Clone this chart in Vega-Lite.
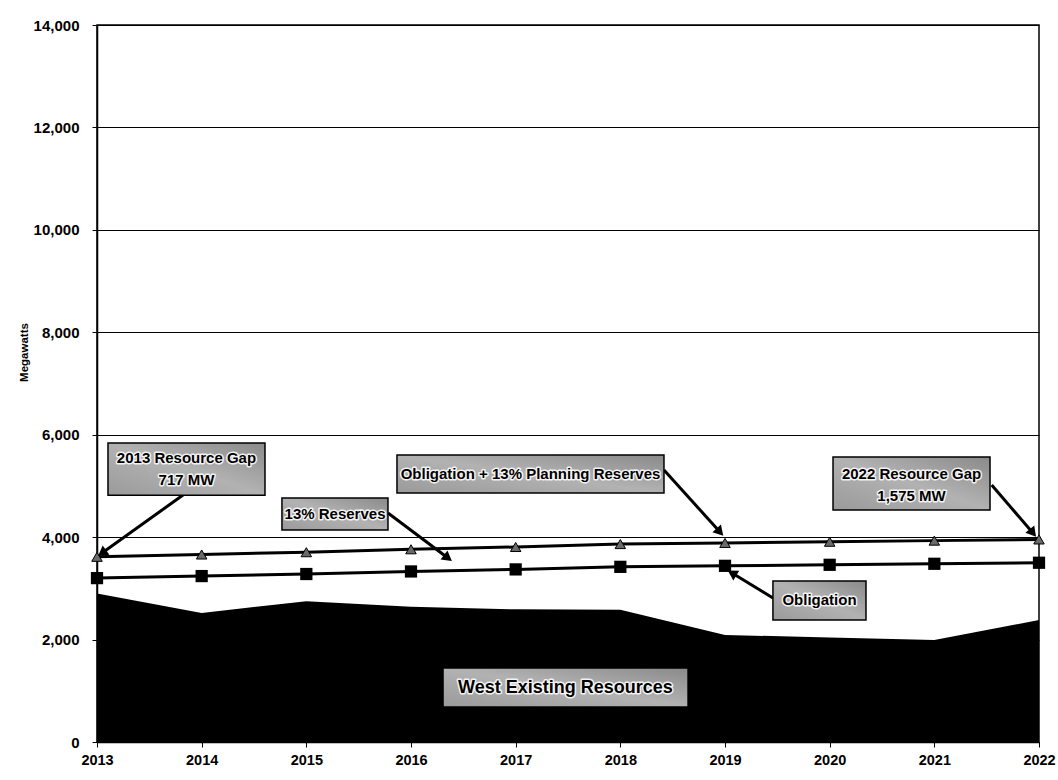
{
  "$schema": "https://vega.github.io/schema/vega-lite/v6.json",
  "width": 942,
  "height": 717,
  "autosize": {"type": "none"},
  "padding": {"left": 97, "top": 25, "right": 19, "bottom": 38},
  "background": "white",
  "config": {
    "view": {"stroke": "black", "strokeWidth": 1.5},
    "axis": {
      "labelFont": "Liberation Sans",
      "labelFontWeight": "bold",
      "labelColor": "black",
      "domainColor": "black",
      "domainWidth": 1.5,
      "tickColor": "black",
      "tickSize": 5,
      "gridColor": "black",
      "gridWidth": 1,
      "gridOpacity": 1
    }
  },
  "datasets": {
    "series": [
      {"year": 2013, "series": "Obligation", "value": 3200},
      {"year": 2014, "series": "Obligation", "value": 3240},
      {"year": 2015, "series": "Obligation", "value": 3280},
      {"year": 2016, "series": "Obligation", "value": 3330},
      {"year": 2017, "series": "Obligation", "value": 3370},
      {"year": 2018, "series": "Obligation", "value": 3420},
      {"year": 2019, "series": "Obligation", "value": 3440},
      {"year": 2020, "series": "Obligation", "value": 3460},
      {"year": 2021, "series": "Obligation", "value": 3480},
      {"year": 2022, "series": "Obligation", "value": 3500},
      {"year": 2013, "series": "Obligation + 13% Planning Reserves", "value": 3616},
      {"year": 2014, "series": "Obligation + 13% Planning Reserves", "value": 3661},
      {"year": 2015, "series": "Obligation + 13% Planning Reserves", "value": 3706},
      {"year": 2016, "series": "Obligation + 13% Planning Reserves", "value": 3763},
      {"year": 2017, "series": "Obligation + 13% Planning Reserves", "value": 3808},
      {"year": 2018, "series": "Obligation + 13% Planning Reserves", "value": 3865},
      {"year": 2019, "series": "Obligation + 13% Planning Reserves", "value": 3887},
      {"year": 2020, "series": "Obligation + 13% Planning Reserves", "value": 3910},
      {"year": 2021, "series": "Obligation + 13% Planning Reserves", "value": 3932},
      {"year": 2022, "series": "Obligation + 13% Planning Reserves", "value": 3955}
    ],
    "existing": [
      {"year": 2013, "value": 2900},
      {"year": 2014, "value": 2520},
      {"year": 2015, "value": 2750},
      {"year": 2016, "value": 2640},
      {"year": 2017, "value": 2590},
      {"year": 2018, "value": 2580},
      {"year": 2019, "value": 2090},
      {"year": 2020, "value": 2040},
      {"year": 2021, "value": 1990},
      {"year": 2022, "value": 2380}
    ],
    "boxes": [
      {"id": "gap2013", "label": "2013 Resource Gap\n717 MW", "x1": 2013.105, "x2": 2014.605, "y1": 5840, "y2": 4820, "tx": 2013.855, "ty": 5545},
      {"id": "reserves", "label": "13% Reserves", "x1": 2014.767, "x2": 2015.78, "y1": 4764, "y2": 4140, "tx": 2015.274, "ty": 4452},
      {"id": "planning", "label": "Obligation + 13% Planning Reserves", "x1": 2015.866, "x2": 2018.417, "y1": 5604, "y2": 4862, "tx": 2017.142, "ty": 5233},
      {"id": "gap2022", "label": "2022 Resource Gap\n1,575 MW", "x1": 2020.032, "x2": 2021.532, "y1": 5565, "y2": 4530, "tx": 2020.782, "ty": 5240},
      {"id": "obligation", "label": "Obligation", "x1": 2019.458, "x2": 2020.347, "y1": 3144, "y2": 2382, "tx": 2019.903, "ty": 2763},
      {"id": "west", "label": "West Existing Resources", "x1": 2016.306, "x2": 2018.647, "y1": 1445, "y2": 683, "tx": 2017.476, "ty": 1064}
    ],
    "arrows": [
      {"id": "a1", "x": 2013.822, "y": 4823, "x2": 2013.048, "y2": 3690},
      {"id": "a2", "x": 2015.78, "y": 4471, "x2": 2016.353, "y2": 3593},
      {"id": "a3", "x": 2018.417, "y": 5311, "x2": 2018.952, "y2": 4100},
      {"id": "a4", "x": 2021.548, "y": 5018, "x2": 2021.942, "y2": 4081},
      {"id": "a5", "x": 2019.458, "y": 2812, "x2": 2019.067, "y2": 3300}
    ]
  },
  "layer": [
    {
      "data": {"name": "existing"},
      "mark": {"type": "area", "color": "black", "interpolate": "linear"},
      "encoding": {
        "x": {
          "field": "year", "type": "quantitative",
          "scale": {"domain": [2013, 2022], "nice": false, "zero": false},
          "axis": {"title": null, "values": [2013, 2014, 2015, 2016, 2017, 2018, 2019, 2020, 2021, 2022], "labelExpr": "format(datum.value, 'd')", "labelFontSize": 14.5, "labelPadding": 6, "grid": false, "labelFlush": false}
        },
        "y": {
          "field": "value", "type": "quantitative",
          "scale": {"domain": [0, 14000], "nice": false},
          "axis": {"title": "Megawatts", "values": [0, 2000, 4000, 6000, 8000, 10000, 12000, 14000], "labelExpr": "format(datum.value, ',')", "labelFontSize": 15, "labelPadding": 13, "grid": true, "titleFont": "Liberation Sans", "titleFontWeight": "bold", "titleFontSize": 11.5, "titleColor": "black", "titleX": -73, "titleY": 327, "titleAngle": -90, "titleAlign": "center", "titleBaseline": "middle"}
        }
      }
    },
    {
      "data": {"name": "series"},
      "mark": {"type": "line", "color": "black", "strokeWidth": 3},
      "encoding": {
        "x": {"field": "year", "type": "quantitative"},
        "y": {"field": "value", "type": "quantitative"},
        "detail": {"field": "series"}
      }
    },
    {
      "data": {"name": "series"},
      "transform": [{"filter": "datum.series === 'Obligation'"}],
      "mark": {"type": "square", "color": "black", "size": 150, "opacity": 1},
      "encoding": {
        "x": {"field": "year", "type": "quantitative"},
        "y": {"field": "value", "type": "quantitative"}
      }
    },
    {
      "data": {"name": "series"},
      "transform": [{"filter": "datum.series !== 'Obligation'"}],
      "mark": {"type": "point", "shape": "triangle-up", "filled": true, "fill": "#6a6a6a", "stroke": "black", "strokeWidth": 1, "size": 110, "opacity": 1},
      "encoding": {
        "x": {"field": "year", "type": "quantitative"},
        "y": {"field": "value", "type": "quantitative"}
      }
    },
    {
      "data": {"name": "arrows"},
      "mark": {"type": "rule", "color": "black", "strokeWidth": 3},
      "encoding": {
        "x": {"field": "x", "type": "quantitative"},
        "y": {"field": "y", "type": "quantitative"},
        "x2": {"field": "x2"},
        "y2": {"field": "y2"}
      }
    },
    {
      "data": {"name": "arrows"},
      "transform": [{"filter": "datum.id === 'a1'"}],
      "mark": {"type": "point", "shape": "triangle-up", "angle": 234, "filled": true, "color": "black", "size": 130, "opacity": 1},
      "encoding": {"x": {"field": "x2", "type": "quantitative"}, "y": {"field": "y2", "type": "quantitative"}}
    },
    {
      "data": {"name": "arrows"},
      "transform": [{"filter": "datum.id === 'a2'"}],
      "mark": {"type": "point", "shape": "triangle-up", "angle": 127, "filled": true, "color": "black", "size": 130, "opacity": 1},
      "encoding": {"x": {"field": "x2", "type": "quantitative"}, "y": {"field": "y2", "type": "quantitative"}}
    },
    {
      "data": {"name": "arrows"},
      "transform": [{"filter": "datum.id === 'a3'"}],
      "mark": {"type": "point", "shape": "triangle-up", "angle": 138, "filled": true, "color": "black", "size": 130, "opacity": 1},
      "encoding": {"x": {"field": "x2", "type": "quantitative"}, "y": {"field": "y2", "type": "quantitative"}}
    },
    {
      "data": {"name": "arrows"},
      "transform": [{"filter": "datum.id === 'a4'"}],
      "mark": {"type": "point", "shape": "triangle-up", "angle": 141, "filled": true, "color": "black", "size": 130, "opacity": 1},
      "encoding": {"x": {"field": "x2", "type": "quantitative"}, "y": {"field": "y2", "type": "quantitative"}}
    },
    {
      "data": {"name": "arrows"},
      "transform": [{"filter": "datum.id === 'a5'"}],
      "mark": {"type": "point", "shape": "triangle-up", "angle": 301, "filled": true, "color": "black", "size": 130, "opacity": 1},
      "encoding": {"x": {"field": "x2", "type": "quantitative"}, "y": {"field": "y2", "type": "quantitative"}}
    },
    {
      "data": {"name": "boxes"},
      "mark": {
        "type": "rect",
        "stroke": "black",
        "strokeWidth": 1.5,
        "fill": {"gradient": "linear", "x1": 0, "y1": 1, "x2": 1, "y2": 0, "stops": [{"offset": 0, "color": "#9a9a9a"}, {"offset": 0.5, "color": "#b2b2b2"}, {"offset": 1, "color": "#8a8a8a"}]}
      },
      "encoding": {
        "x": {"field": "x1", "type": "quantitative"},
        "x2": {"field": "x2"},
        "y": {"field": "y1", "type": "quantitative"},
        "y2": {"field": "y2"}
      }
    },
    {
      "data": {"name": "boxes"},
      "transform": [{"filter": "datum.id !== 'west'"}],
      "mark": {"type": "text", "font": "Liberation Sans", "fontWeight": "bold", "fontSize": 15, "lineBreak": "\n", "lineHeight": 22, "align": "center", "baseline": "middle", "stroke": "white", "strokeWidth": 3, "strokeOpacity": 0.85, "fill": "white", "strokeJoin": "round"},
      "encoding": {
        "x": {"field": "tx", "type": "quantitative"},
        "y": {"field": "ty", "type": "quantitative"},
        "text": {"field": "label"}
      }
    },
    {
      "data": {"name": "boxes"},
      "transform": [{"filter": "datum.id !== 'west'"}],
      "mark": {"type": "text", "font": "Liberation Sans", "fontWeight": "bold", "fontSize": 15, "lineBreak": "\n", "lineHeight": 22, "align": "center", "baseline": "middle", "fill": "black"},
      "encoding": {
        "x": {"field": "tx", "type": "quantitative"},
        "y": {"field": "ty", "type": "quantitative"},
        "text": {"field": "label"}
      }
    },
    {
      "data": {"name": "boxes"},
      "transform": [{"filter": "datum.id === 'west'"}],
      "mark": {"type": "text", "font": "Liberation Sans", "fontWeight": "bold", "fontSize": 18, "align": "center", "baseline": "middle", "stroke": "white", "strokeWidth": 3, "strokeOpacity": 0.85, "fill": "white", "strokeJoin": "round"},
      "encoding": {
        "x": {"field": "tx", "type": "quantitative"},
        "y": {"field": "ty", "type": "quantitative"},
        "text": {"field": "label"}
      }
    },
    {
      "data": {"name": "boxes"},
      "transform": [{"filter": "datum.id === 'west'"}],
      "mark": {"type": "text", "font": "Liberation Sans", "fontWeight": "bold", "fontSize": 18, "align": "center", "baseline": "middle", "fill": "black"},
      "encoding": {
        "x": {"field": "tx", "type": "quantitative"},
        "y": {"field": "ty", "type": "quantitative"},
        "text": {"field": "label"}
      }
    }
  ]
}
